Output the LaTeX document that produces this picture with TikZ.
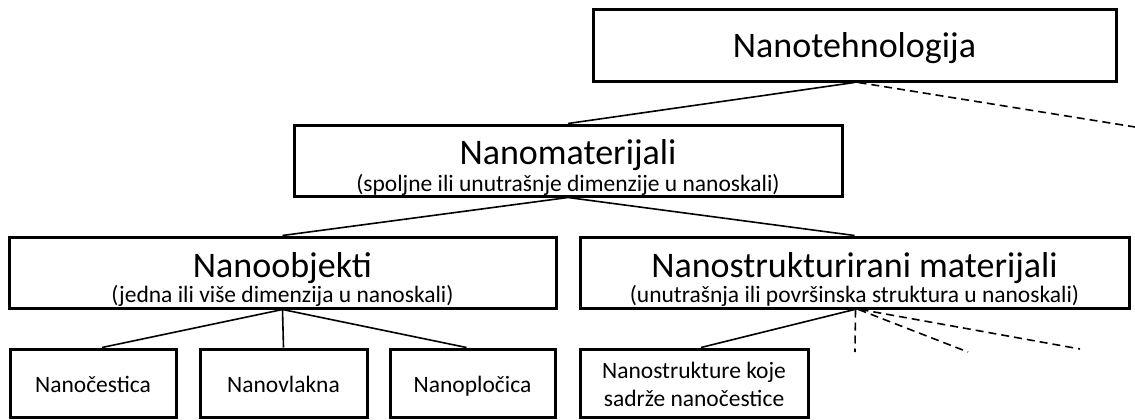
\documentclass[tikz,border=0pt]{standalone}
\usepackage{fontspec}
\setmainfont{Carlito}
\begin{document}
\begin{tikzpicture}[x=1pt,y=-1pt,
 box/.style={draw, line width=3pt, rectangle, inner sep=0pt},
 big/.style={font=\fontsize{36}{40}\selectfont, anchor=base, inner sep=0pt},
 small/.style={font=\fontsize{23.5}{28}\selectfont, anchor=base, inner sep=0pt},
 link/.style={line width=1.6pt},
 dlink/.style={line width=1.6pt, dash pattern=on 8pt off 5pt}]
\useasboundingbox (0,0) rectangle (1135,420);
% boxes
\node[box, minimum width=523pt, minimum height=71pt] (tech) at (854.5,45.5) {};
\node[box, minimum width=548pt, minimum height=71pt] (mat) at (568,160.5) {};
\node[box, minimum width=547pt, minimum height=71pt] (obj) at (282.5,272.5) {};
\node[box, minimum width=549pt, minimum height=71pt] (str) at (854.5,272.5) {};
\node[box, minimum width=166pt, minimum height=68pt] (ces) at (93,383) {};
\node[box, minimum width=167pt, minimum height=68pt] (vla) at (283.5,383) {};
\node[box, minimum width=165pt, minimum height=68pt] (plo) at (472.5,383) {};
\node[box, minimum width=228pt, minimum height=68pt] (nsc) at (694,383) {};
% texts
\node[big] (techT) at (854.5,58) {Nanotehnologija};
\node[big] (matT) at (568,164) {Nanomaterijali};
\node[small] (matS) at (568,191) {(spoljne ili unutrašnje dimenzije u nanoskali)};
\node[big] (objT) at (282.5,277) {Nanoobjekti};
\node[small] (objS) at (282.5,302) {(jedna ili više dimenzija u nanoskali)};
\node[big] (strT) at (854.5,277) {Nanostrukturirani materijali};
\node[small] (strS) at (854.5,302) {(unutrašnja ili površinska struktura u nanoskali)};
\node[small] (cesT) at (93,392) {Nanočestica};
\node[small] (vlaT) at (283.5,392) {Nanovlakna};
\node[small] (ploT) at (472.5,392) {Nanopločica};
\node[small, align=center, anchor=center] (nscT) at (694,384) {Nanostrukture koje\\sadrže nanočestice};
% free ends
\coordinate (t1) at (1135,127);
\coordinate (d1) at (855,352);
\coordinate (d2) at (968,352);
\coordinate (d3) at (1080,349);
% connectors
\draw[link] (tech.south) -- (mat.north);
\draw[dlink] ([xshift=4pt]tech.south) -- (t1);
\draw[link] (mat.south) -- (obj.north);
\draw[link] (mat.south) -- (str.north);
\draw[link] (obj.south) -- ([xshift=9pt]ces.north);
\draw[link] (obj.south) -- (vla.north);
\draw[link] (obj.south) -- ([xshift=-6pt]plo.north);
\draw[link] (str.south) -- ([xshift=7pt]nsc.north);
\draw[dlink] ([xshift=1pt]str.south) -- (d1);
\draw[dlink] ([xshift=4pt]str.south) -- (d2);
\draw[dlink] ([xshift=6pt]str.south) -- (d3);
\end{tikzpicture}
\end{document}
